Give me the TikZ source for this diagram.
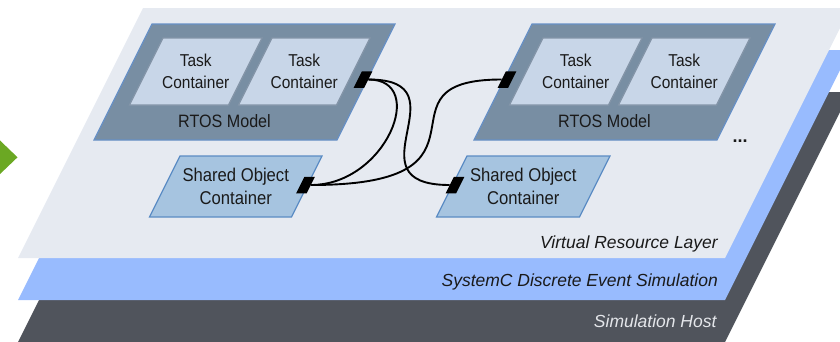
\documentclass[tikz,border=0pt]{standalone}
\usepackage{fontspec}
\setmainfont{Liberation Sans}
\newfontfamily\boxfont[FakeStretch=0.9]{Liberation Sans}
\newfontfamily\layerfont{Liberation Sans}

\definecolor{vrlayer}{HTML}{E6EAF1}
\definecolor{sclayer}{HTML}{98BBFE}
\definecolor{hostlayer}{HTML}{50545C}
\definecolor{rtosfill}{HTML}{788EA3}
\definecolor{rtosedge}{HTML}{6790C6}
\definecolor{taskfill}{HTML}{C8D6E8}
\definecolor{taskedge}{HTML}{8495A8}
\definecolor{shfill}{HTML}{A6C4E0}
\definecolor{shedge}{HTML}{5B8CC4}
\definecolor{arrowgreen}{HTML}{6BA823}
\definecolor{hosttext}{HTML}{E4E6EA}
\definecolor{ink}{HTML}{1A1A1A}

\tikzset{
  rtosbox/.style={fill=rtosfill, draw=rtosedge, line width=1.2pt, line join=miter},
  taskbox/.style={fill=taskfill, draw=taskedge, line width=1.2pt},
  sharedbox/.style={fill=shfill, draw=shedge, line width=1.2pt},
  tasktext/.style={font=\boxfont\fontsize{17.2}{22.5}\selectfont, align=center, inner sep=0pt, text=ink},
  sharedtext/.style={font=\boxfont\fontsize{18.5}{23}\selectfont, align=center, inner sep=0pt, text=ink},
  rtostext/.style={font=\boxfont\fontsize{17.9}{20}\selectfont, inner sep=0pt, text=ink},
  layerlabel/.style={anchor=base east, inner sep=0pt, font=\layerfont\itshape\fontsize{17.5}{20}\selectfont},
  port/.style={rectangle, minimum width=10.5pt, minimum height=16.5pt, inner sep=0pt,
    xslant=0.5, transform shape, fill=black, draw=none},
  conn/.style={line width=1.9pt, draw=black}
}

\begin{document}
\begin{tikzpicture}[x=1pt, y=-1pt]
\useasboundingbox (0,0) rectangle (840,341);
\clip (0,0) rectangle (840,341);

% stacked layers, bottom to top
\fill[hostlayer] (143,92) -- (850,92) -- (725,342) -- (18,342) -- cycle;
\fill[sclayer]   (143,50) -- (850,50) -- (725,300) -- (18,300) -- cycle;
\fill[vrlayer]   (143,8)  -- (850,8)  -- (725,258) -- (18,258) -- cycle;

% green pointer on the left border
\fill[arrowgreen] (-1,139.5) -- (17.5,157.3) -- (-1,175) -- cycle;

% left RTOS model with its task containers
\path[rtosbox] (152,24) -- (395,24) -- (337,140) -- (94,140) -- cycle;
\path[taskbox] (163,38) -- (262,38) -- (228.5,105) -- (129.5,105) -- cycle;
\path[taskbox] (272,38) -- (370,38) -- (336.5,105) -- (238.5,105) -- cycle;
\node[tasktext] (tl1) at (195.75,71.5) {Task\\Container};
\node[tasktext] (tl2) at (304.25,71.5) {Task\\Container};
\node[rtostext] (rtosl) at (224.5,121.5) {RTOS Model};

% right RTOS model with its task containers
\path[rtosbox] (532,24) -- (775,24) -- (717,140) -- (474,140) -- cycle;
\path[taskbox] (543,38) -- (642,38) -- (608.5,105) -- (509.5,105) -- cycle;
\path[taskbox] (652,38) -- (750,38) -- (716.5,105) -- (618.5,105) -- cycle;
\node[tasktext] (tr1) at (575.75,71.5) {Task\\Container};
\node[tasktext] (tr2) at (684.25,71.5) {Task\\Container};
\node[rtostext] (rtosr) at (604.5,121.5) {RTOS Model};

% shared object containers
\path[sharedbox] (180,156) -- (322,156) -- (291.5,217) -- (149.5,217) -- cycle;
\path[sharedbox] (467,156) -- (610,156) -- (579.5,217) -- (436.5,217) -- cycle;
\node[sharedtext] (shl) at (235.75,186.5) {Shared Object\\Container};
\node[sharedtext] (shr) at (523.25,186.5) {Shared Object\\Container};

\node[anchor=base, inner sep=0pt, font=\layerfont\bfseries\fontsize{18}{20}\selectfont, text=ink] (more) at (740,142.5) {...};

% ports of the containers
\node[port] (p1) at (363,79.5) {};
\node[port] (p2) at (305.5,185) {};
\node[port] (p3) at (507,79.5) {};
\node[port] (p4) at (455,185) {};

% channels between tasks and shared objects
\draw[conn] (p1.east) .. controls +(60,0) and +(75,0) .. (p2.east);
\draw[conn] (p1.east) .. controls +(99,0) and +(-104,0) .. (p4.west);
\draw[conn] (p3.west) .. controls +(-136,0) and +(202,0) .. (p2.east);

% layer names
\node[layerlabel, text=ink] (vrl) at (718,248.3) {Virtual Resource Layer};
\node[layerlabel, text=ink] (scl) at (718,286.3) {SystemC Discrete Event Simulation};
\node[layerlabel, text=hosttext] (hostl) at (716.7,327.6) {Simulation Host};
\end{tikzpicture}
\end{document}
